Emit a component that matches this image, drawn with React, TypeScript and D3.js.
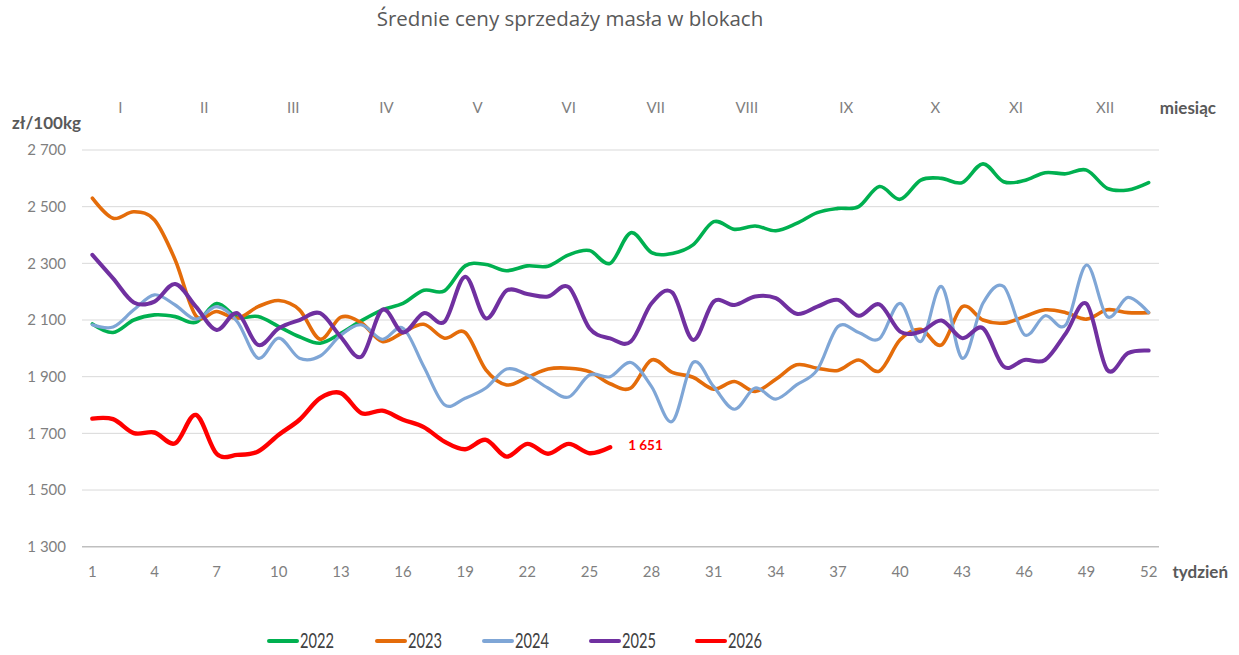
import React from "react";
import * as d3 from "d3";

const weeks: number[] = d3.range(1, 53);

const y2022: number[] = [2086, 2056, 2100, 2118, 2112, 2092, 2158, 2110, 2112, 2077, 2041, 2018, 2053, 2098, 2136, 2159, 2205, 2203, 2291, 2296, 2274, 2291, 2290, 2330, 2345, 2300, 2408, 2338, 2335, 2365, 2447, 2420, 2432, 2415, 2441, 2479, 2494, 2500, 2571, 2526, 2594, 2600, 2585, 2651, 2588, 2592, 2620, 2616, 2629, 2565, 2559, 2585];
const y2023: number[] = [2530, 2459, 2482, 2453, 2312, 2115, 2130, 2106, 2147, 2169, 2136, 2032, 2110, 2089, 2024, 2056, 2085, 2036, 2056, 1924, 1871, 1898, 1927, 1930, 1918, 1875, 1860, 1959, 1915, 1898, 1856, 1883, 1848, 1891, 1942, 1930, 1922, 1959, 1920, 2030, 2067, 2012, 2147, 2100, 2089, 2112, 2136, 2126, 2103, 2136, 2126, 2126];
const y2024: number[] = [2083, 2075, 2136, 2189, 2153, 2103, 2147, 2094, 1965, 2036, 1965, 1973, 2047, 2083, 2032, 2071, 1936, 1801, 1824, 1860, 1927, 1906, 1860, 1828, 1906, 1900, 1950, 1865, 1742, 1950, 1865, 1785, 1860, 1821, 1871, 1924, 2077, 2056, 2034, 2159, 2024, 2218, 1965, 2159, 2218, 2048, 2115, 2083, 2294, 2112, 2180, 2126];
const y2025: number[] = [2330, 2247, 2162, 2165, 2227, 2147, 2065, 2124, 2012, 2071, 2100, 2124, 2040, 1971, 2136, 2056, 2124, 2094, 2253, 2106, 2204, 2192, 2183, 2216, 2071, 2035, 2024, 2159, 2197, 2030, 2165, 2153, 2183, 2177, 2122, 2147, 2171, 2115, 2155, 2059, 2059, 2098, 2036, 2071, 1936, 1959, 1959, 2053, 2157, 1924, 1983, 1992];
const y2026: number[] = [1752, 1750, 1701, 1703, 1665, 1765, 1628, 1624, 1636, 1695, 1748, 1824, 1842, 1771, 1780, 1748, 1722, 1671, 1644, 1677, 1618, 1663, 1628, 1663, 1630, 1651];

const seriesNames: string[] = ["2022", "2023", "2024", "2025", "2026"];
const seriesValues: number[][] = [y2022, y2023, y2024, y2025, y2026];
const seriesColors: string[] = ["#00B050", "#E46C0A", "#7FA6D6", "#7030A0", "#FF0000"];
const seriesWidths: number[] = [3.6, 3.6, 3.2, 4, 4.4];

const yTicks: number[] = [1300, 1500, 1700, 1900, 2100, 2300, 2500, 2700];
const xTicks: number[] = [1, 4, 7, 10, 13, 16, 19, 22, 25, 28, 31, 34, 37, 40, 43, 46, 49, 52];
const monthLabels: string[] = ["I", "II", "III", "IV", "V", "VI", "VII", "VIII", "IX", "X", "XI", "XII"];
const monthPos: number[] = [2.35, 6.4, 10.7, 15.2, 19.6, 24, 28.2, 32.6, 37.4, 41.7, 45.6, 49.9];

const lastLabel = "1 651";

const fmt = (v: number) => {
  const s = String(v);
  return s.length > 3 ? s.slice(0, s.length - 3) + " " + s.slice(-3) : s;
};

export default function App() {
  const W = 1239, H = 655;
  const x = d3.scaleLinear().domain([0.5, 52.5]).range([82, 1159]);
  const y = d3.scaleLinear().domain([1300, 2700]).range([546.7, 150]);
  const line = d3
    .line<number>()
    .x((_, i) => x(weeks[i]))
    .y((d) => y(d))
    .curve(d3.curveCardinal.tension(0));

  const font = "Lato, 'Open Sans', sans-serif";
  const legendX = [269, 377, 484, 591, 697];
  const last = y2026[y2026.length - 1];

  return (
    <svg width={W} height={H} style={{ position: "absolute", left: 0, top: 0, display: "block", background: "#fff" }} fontFamily={font}>
      <text x={570} y={26} textAnchor="middle" fontSize={20.5} fill="#595959" fontFamily="'Open Sans', sans-serif">
        Średnie ceny sprzedaży masła w blokach
      </text>

      {yTicks.map((t) => (
        <g key={t}>
          <line x1={82} x2={1159} y1={y(t)} y2={y(t)} stroke={t === 1300 ? "#BFBFBF" : "#D9D9D9"} strokeWidth={t === 1300 ? 1.5 : 1} />
          <text x={66} y={y(t)} dy="0.35em" textAnchor="end" fontSize={15} fill="#7F7F7F">
            {fmt(t)}
          </text>
        </g>
      ))}

      {xTicks.map((t) => (
        <text key={t} x={x(t)} y={572} dy="0.35em" textAnchor="middle" fontSize={15} fill="#7F7F7F">
          {t}
        </text>
      ))}
      <text x={1228} y={572} dy="0.35em" textAnchor="end" fontSize={17} fontWeight="bold" fill="#595959">tydzień</text>

      {monthLabels.map((m, i) => (
        <text key={m} x={x(monthPos[i])} y={108} dy="0.35em" textAnchor="middle" fontSize={15} fill="#7F7F7F">
          {m}
        </text>
      ))}
      <text x={1216} y={108} dy="0.35em" textAnchor="end" fontSize={17} fontWeight="bold" fill="#595959">miesiąc</text>
      <text x={81} y={123} dy="0.35em" textAnchor="end" fontSize={17} fontWeight="bold" fill="#595959">zł/100kg</text>

      {seriesValues.map((vals, i) => (
        <path key={seriesNames[i]} d={line(vals) || ""} fill="none" stroke={seriesColors[i]} strokeWidth={seriesWidths[i]} strokeLinecap="round" strokeLinejoin="round" />
      ))}

      <text x={x(26) + 18} y={y(last) - 2} dy="0.35em" fontSize={13.5} fontWeight="bold" fill="#FF0000">
        {lastLabel}
      </text>

      {seriesNames.map((n, i) => (
        <g key={n} transform={`translate(${legendX[i]},641)`}>
          <line x1={0} x2={28} y1={0} y2={0} stroke={seriesColors[i]} strokeWidth={4} strokeLinecap="round" />
          <text x={31} y={0} dy="0.35em" fontSize={21} fill="#404040" textLength={34} lengthAdjust="spacingAndGlyphs">{n}</text>
        </g>
      ))}
    </svg>
  );
}
